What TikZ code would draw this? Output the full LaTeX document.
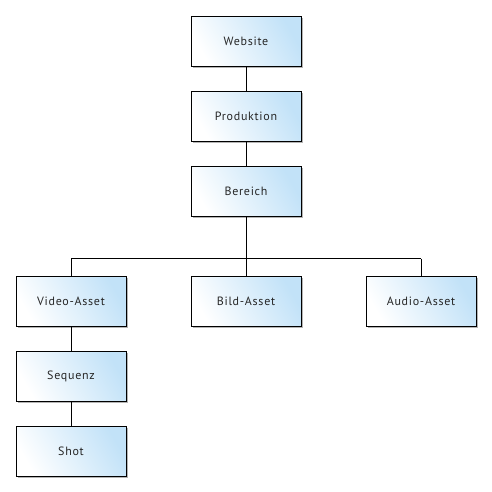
\documentclass[tikz,border=0pt]{standalone}
\usepackage{fontspec}
\setmainfont{PT Sans}[LetterSpace=6]
\usepackage{xcolor}
\usetikzlibrary{shadows}
\definecolor{boxblue}{HTML}{C2E2F8}
\definecolor{shadowgray}{HTML}{B4B4B4}

\begin{document}
\begin{tikzpicture}[x=1pt, y=-1pt, font=\fontsize{12}{14}\selectfont,
  entity/.style={draw, minimum width=110pt, minimum height=50pt, inner sep=0pt,
    left color=white, right color=boxblue, shading angle=120, text=black!85,
    drop shadow={shadow xshift=2pt, shadow yshift=-2pt, fill=shadowgray, opacity=1}}]
  \useasboundingbox (0,0) rectangle (492,491);
  \node[entity] (website) at (246,41) {Website};
  \node[entity] (produktion) at (246,116) {Produktion};
  \node[entity] (bereich) at (246,191) {Bereich};
  \node[entity] (video) at (71,301) {Video-Asset};
  \node[entity] (bild) at (246,301) {Bild-Asset};
  \node[entity] (audio) at (421,301) {Audio-Asset};
  \node[entity] (sequenz) at (71,376) {Sequenz};
  \node[entity] (shot) at (71,451) {Shot};
  \coordinate (bus) at (246,258.5);
  \coordinate (busleft) at (71,258.5);
  \coordinate (busright) at (421,258.5);
  \draw (website) -- (produktion);
  \draw (produktion) -- (bereich);
  \draw (bereich) -- (bus);
  \draw (bus) -- (bild);
  \draw (busleft) -- (bus);
  \draw (bus) -- (busright);
  \draw (busleft) -- (video);
  \draw (busright) -- (audio);
  \draw (video) -- (sequenz);
  \draw (sequenz) -- (shot);
\end{tikzpicture}
\end{document}
